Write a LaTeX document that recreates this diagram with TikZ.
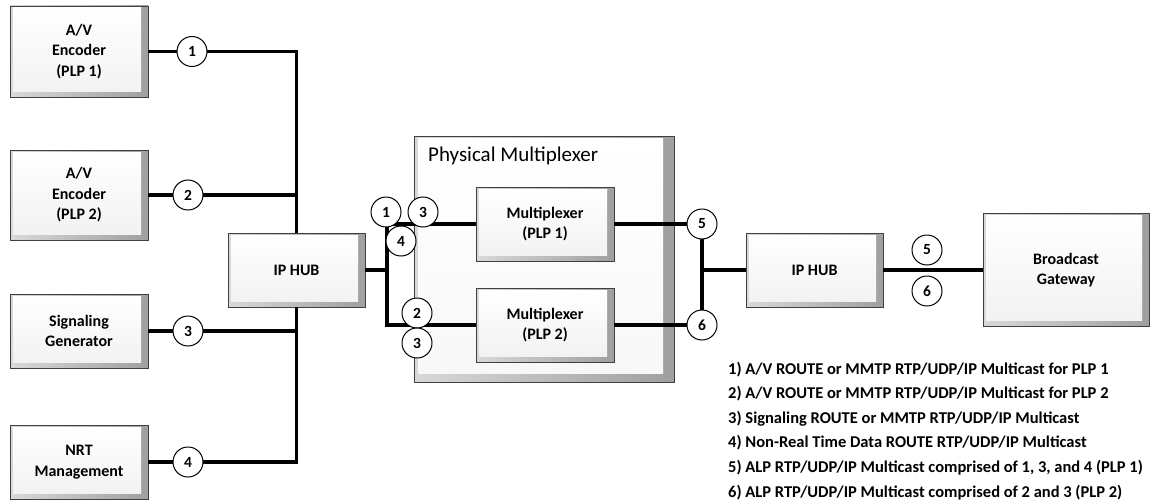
\documentclass[tikz,border=0pt]{standalone}
\usepackage{fontspec}
\setmainfont{Carlito}
\begin{document}
\begin{tikzpicture}[x=1pt,y=-1pt]
\tikzset{
  box/.style={draw=gray!50!black, line width=0.7pt, inner sep=0pt, align=center,
    font=\fontsize{16}{20.5}\selectfont\bfseries,
    path picture={
      \shade[left color=gray!30, right color=gray!75]
        (path picture bounding box.south west) rectangle (path picture bounding box.north east);
      \shade[top color=white, bottom color=gray!10]
        ([xshift=3pt,yshift=-2pt]path picture bounding box.north west) rectangle
        ([xshift=-7pt,yshift=6pt]path picture bounding box.south east);
    }},
  bigbox/.style={draw=gray!50!black, line width=0.7pt, inner sep=0pt,
    path picture={
      \shade[left color=gray!30, right color=gray!75]
        (path picture bounding box.south west) rectangle (path picture bounding box.north east);
      \shade[top color=white, bottom color=gray!6]
        ([xshift=4pt,yshift=-2pt]path picture bounding box.north west) rectangle
        ([xshift=-11pt,yshift=9pt]path picture bounding box.south east);
    }},
  conn/.style={line width=3.1pt},
  num/.style={circle, draw=black, line width=1pt, fill=white, minimum size=30pt,
    inner sep=0pt, font=\fontsize{15.5}{15.5}\selectfont\bfseries},
  legend/.style={anchor=base west, inner sep=0pt, font=\fontsize{16.5}{16.5}\selectfont\bfseries},
}
\useasboundingbox (0,0) rectangle (1150,503);

% physical multiplexer container
\node[bigbox, minimum width=260pt, minimum height=246pt] (pmux) at (544,259) {};
\node[anchor=base west, inner sep=0pt, font=\fontsize{21}{21}\selectfont] (pmlabel) at (428,161) {Physical Multiplexer};

% boxes
\node[box, minimum width=138pt, minimum height=91pt] (enc1) at (79,51.5) {A/V\\Encoder\\(PLP 1)};
\node[box, minimum width=138pt, minimum height=90pt] (enc2) at (79,195) {A/V\\Encoder\\(PLP 2)};
\node[box, minimum width=138pt, minimum height=74pt] (sig) at (79,331) {Signaling\\Generator};
\node[box, minimum width=138pt, minimum height=74pt] (nrt) at (79,462) {NRT\\Management};
\node[box, minimum width=137pt, minimum height=74pt] (hubL) at (296.5,270) {IP HUB};
\node[box, minimum width=138pt, minimum height=74pt] (mux1) at (545,224) {Multiplexer\\(PLP 1)};
\node[box, minimum width=138pt, minimum height=74pt] (mux2) at (545,325) {Multiplexer\\(PLP 2)};
\node[box, minimum width=137pt, minimum height=74pt] (hubR) at (814.5,270) {IP HUB};
\node[box, minimum width=166pt, minimum height=113pt] (gw) at (1066,270) {Broadcast\\Gateway};

% connectors
\coordinate (split) at (387,270);
\coordinate (join) at (702,270);
\draw[conn] (enc1.east) -| (hubL.north);
\draw[conn] (enc2.east) -| (hubL.north);
\draw[conn] (sig.east) -| (hubL.south);
\draw[conn] (nrt.east) -| (hubL.south);
\draw[conn] (hubL.east) -- (split);
\draw[conn] (mux1.west) -| (split) |- (mux2.west);
\draw[conn] (mux1.east) -| (join) |- (mux2.east);
\draw[conn] (join) -- (hubR.west);
\draw[conn] (hubR.east) -- (hubR.east -| gw.west);

% stream numbers
\node[num] (c1) at (192,51.5) {1};
\node[num] (c2) at (188,195) {2};
\node[num] (c3) at (188,331) {3};
\node[num] (c4) at (188,462) {4};
\node[num] (m1) at (386,212) {1};
\node[num] (m3a) at (423,212) {3};
\node[num] (m4) at (401,241) {4};
\node[num] (m2) at (417,313) {2};
\node[num] (m3b) at (417,343) {3};
\node[num] (c5) at (702,224) {5};
\node[num] (c6) at (702,325) {6};
\node[num] (r5) at (927,250) {5};
\node[num] (r6) at (927,291) {6};

% legend
\node[legend] (l1) at (728,374) {1) A/V ROUTE or MMTP RTP/UDP/IP Multicast for PLP 1};
\node[legend] (l2) at (728,398.6) {2) A/V ROUTE or MMTP RTP/UDP/IP Multicast for PLP 2};
\node[legend] (l3) at (728,423.2) {3) Signaling ROUTE or MMTP RTP/UDP/IP Multicast};
\node[legend] (l4) at (728,447.8) {4) Non-Real Time Data ROUTE RTP/UDP/IP Multicast};
\node[legend] (l5) at (728,472.4) {5) ALP RTP/UDP/IP Multicast comprised of 1, 3, and 4 (PLP 1)};
\node[legend] (l6) at (728,497) {6) ALP RTP/UDP/IP Multicast comprised of 2 and 3 (PLP 2)};
\end{tikzpicture}
\end{document}
